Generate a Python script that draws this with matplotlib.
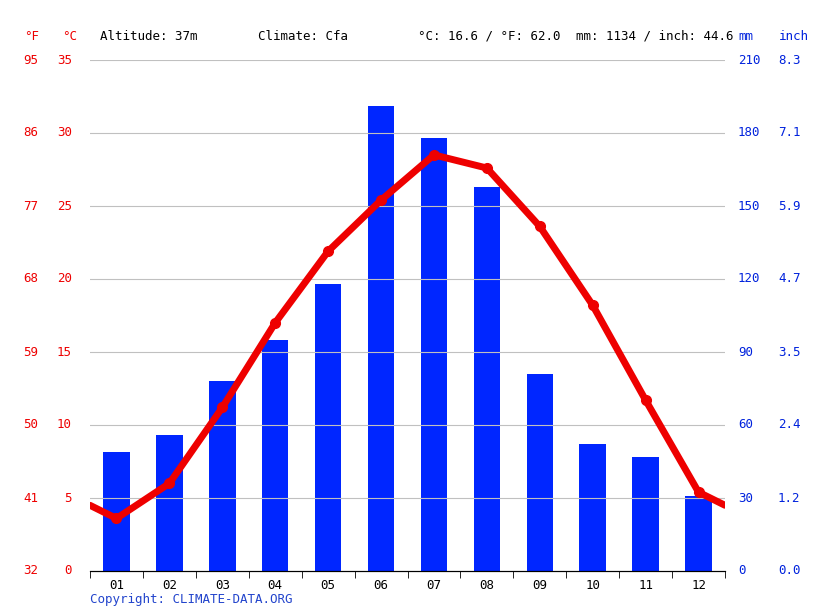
import matplotlib.pyplot as plt
import numpy as np

months = ['01', '02', '03', '04', '05', '06', '07', '08', '09', '10', '11', '12']
precip_mm = [49, 56, 78, 95, 118, 191, 178, 158, 81, 52, 47, 31]
temp_c = [3.6, 6.0, 11.2, 17.0, 21.9, 25.4, 28.5, 27.6, 23.6, 18.2, 11.7, 5.4]
c_ticks = [0, 5, 10, 15, 20, 25, 30, 35]
f_labels = ['32', '41', '50', '59', '68', '77', '86', '95']
mm_labels = ['0', '30', '60', '90', '120', '150', '180', '210']
inch_labels = ['0.0', '1.2', '2.4', '3.5', '4.7', '5.9', '7.1', '8.3']

plt.rcParams['font.family'] = 'DejaVu Sans Mono'
red = '#ee0000'
blue = '#0022dd'

fig = plt.figure(figsize=(8.15, 6.11), dpi=100)
W, H = 815, 611
ax = fig.add_axes([90 / W, 40 / H, 635 / W, 511 / H])
x = np.arange(12)
ax.set_xlim(-0.5, 11.5)
ax.set_ylim(0, 35)
for t in c_ticks[1:]:
    ax.axhline(t, color='#c0c0c0', lw=0.8, zorder=0)

ax2 = ax.twinx()
ax2.set_ylim(0, 210)
ax2.bar(x, precip_mm, width=0.5, color='#0026ff', zorder=1)
ax.set_zorder(ax2.get_zorder() + 1)
ax.patch.set_visible(False)

edge = (temp_c[0] + temp_c[-1]) / 2
ax.plot([-0.5] + list(x) + [11.5], [edge] + temp_c + [edge], color=red, lw=5,
        solid_capstyle='round', zorder=3)
ax.plot(x, temp_c, 'o', color=red, ms=7, zorder=4)

for a in (ax, ax2):
    for s in ('top', 'right', 'left'):
        a.spines[s].set_visible(False)
    a.set_yticks([])
ax.spines['bottom'].set_color('#000000')
ax.set_xticks(x)
ax.set_xticklabels(months, fontsize=9)
ax.set_xticks(np.arange(-0.5, 12, 1), minor=True)
ax.tick_params(axis='x', which='major', length=0, pad=6)
ax.tick_params(axis='x', which='minor', length=5)

for i, t in enumerate(c_ticks):
    y = (40 + t / 35 * 511) / H
    fig.text(38 / W, y, f_labels[i], color=red, fontsize=9, ha='right', va='center')
    fig.text(72 / W, y, str(t), color=red, fontsize=9, ha='right', va='center')
    fig.text(738 / W, y, mm_labels[i], color=blue, fontsize=9, ha='left', va='center')
    fig.text(778 / W, y, inch_labels[i], color=blue, fontsize=9, ha='left', va='center')

yh = 1 - 36 / H
fig.text(24 / W, yh, '°F', color=red, fontsize=9, va='center')
fig.text(62 / W, yh, '°C', color=red, fontsize=9, va='center')
fig.text(100 / W, yh, 'Altitude: 37m', fontsize=9, va='center')
fig.text(258 / W, yh, 'Climate: Cfa', fontsize=9, va='center')
fig.text(418 / W, yh, '°C: 16.6 / °F: 62.0', fontsize=9, va='center')
fig.text(576 / W, yh, 'mm: 1134 / inch: 44.6', fontsize=9, va='center')
fig.text(738 / W, yh, 'mm', color=blue, fontsize=9, va='center')
fig.text(779 / W, yh, 'inch', color=blue, fontsize=9, va='center')
fig.text(90 / W, 1 - 599 / H, 'Copyright: CLIMATE-DATA.ORG', color='#2244cc', fontsize=9, va='center')

fig.savefig('out.png', dpi=100, facecolor='white')
